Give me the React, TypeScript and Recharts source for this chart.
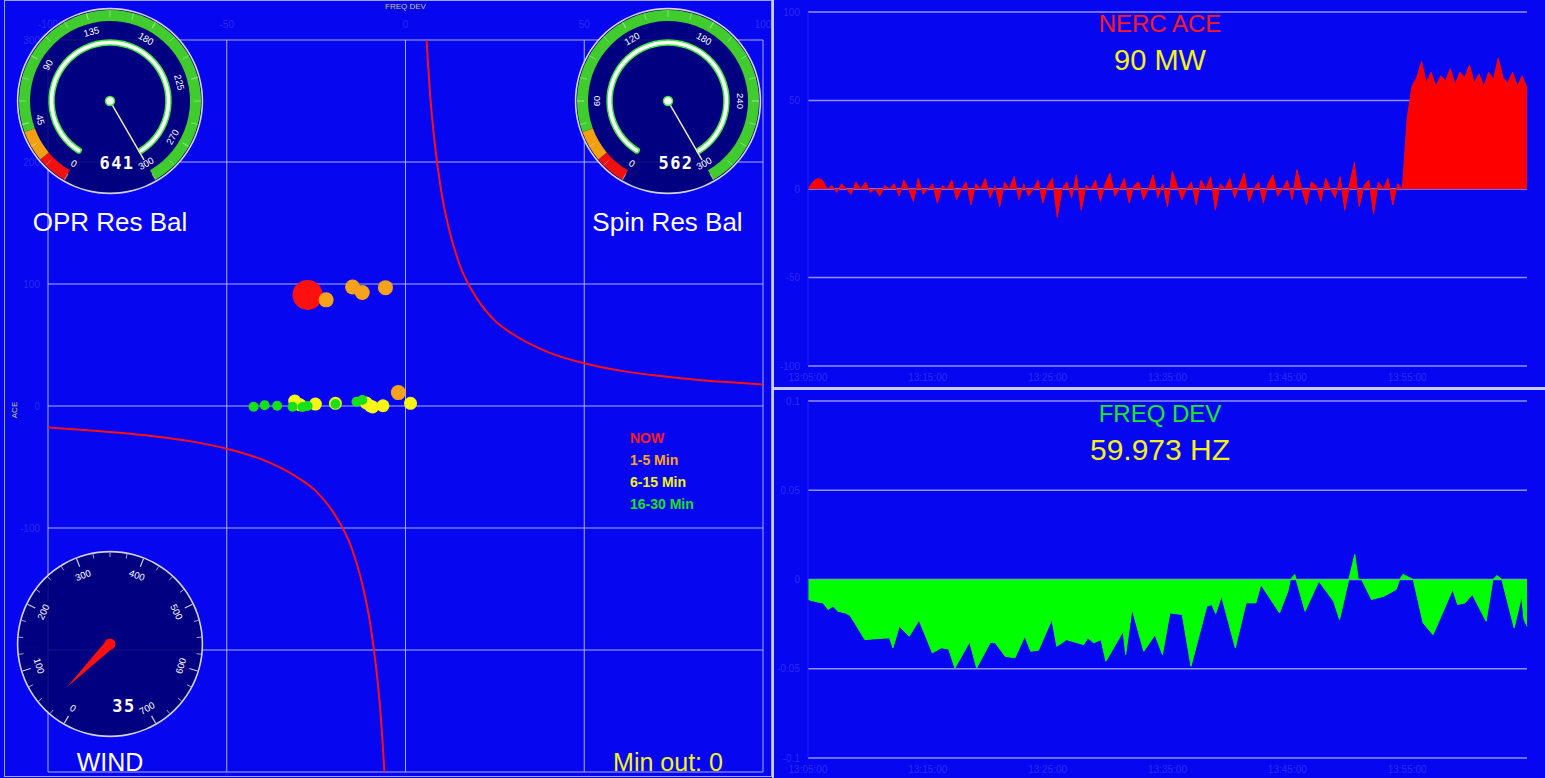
import {
  ScatterChart, Scatter, XAxis, YAxis, CartesianGrid, Legend,
  AreaChart, Area, PieChart, Pie, Cell,
} from 'recharts';

const BG = '#0606f0';
const GRID = '#a9aefc';
const FAINT = '#2b2bf6';
const FONT = '"Liberation Sans", Arial, sans-serif';

// ---- left panel: ACE vs FREQ DEV ----
const FREQ_TICKS = [-100, -50, 0, 50, 100];
const ACE_TICKS = [-300, -200, -100, 0, 100, 200, 300];

const nowPoints = [{ x: -27.4, y: 91 }];
const min1to5Points = [
  { x: -22.2, y: 87 }, { x: -14.8, y: 97.5 }, { x: -12.1, y: 93 }, { x: -5.6, y: 97 }, { x: -2.0, y: 11 },
];
const min6to15Points = [
  { x: -31.0, y: 4 }, { x: -29.5, y: 1 }, { x: -25.2, y: 1.6 }, { x: -19.6, y: 2.2 }, { x: -11.0, y: 2.5 },
  { x: -9.8, y: 0 }, { x: -9.2, y: -0.8 }, { x: -6.3, y: 0.2 }, { x: 1.4, y: 2.2 },
];
const min16to30Points = [
  { x: -42.5, y: -0.6 }, { x: -39.4, y: 0.6 }, { x: -35.9, y: 0.2 }, { x: -31.6, y: -0.6 }, { x: -28.8, y: -0.8 },
  { x: -27.4, y: 0 }, { x: -19.6, y: 1.6 }, { x: -13.7, y: 3.5 }, { x: -12.1, y: 4.9 },
];

// BAAL limit curve
const baalUpper = [
  { x: 5.9, y: 300 }, { x: 7, y: 251 }, { x: 8, y: 220 }, { x: 10, y: 176 }, { x: 12, y: 147 },
  { x: 15, y: 117 }, { x: 20, y: 88 }, { x: 25, y: 70 }, { x: 30, y: 59 }, { x: 40, y: 44 },
  { x: 50, y: 35 }, { x: 60, y: 29 }, { x: 70, y: 25 }, { x: 80, y: 22 }, { x: 90, y: 19.6 }, { x: 100, y: 17.6 },
];
const baalLower = [
  { x: -100, y: -17.6 }, { x: -90, y: -19.6 }, { x: -80, y: -22 }, { x: -70, y: -25 }, { x: -60, y: -29 },
  { x: -50, y: -35 }, { x: -40, y: -44 }, { x: -30, y: -59 }, { x: -25, y: -70 }, { x: -20, y: -88 },
  { x: -15, y: -117 }, { x: -12, y: -147 }, { x: -10, y: -176 }, { x: -8, y: -220 }, { x: -7, y: -251 }, { x: -5.9, y: -300 },
];

const LEGEND_ORDER = ['NOW', '1-5 Min', '6-15 Min', '16-30 Min'];
const LEGEND_COLORS: Record<string, string> = {
  'NOW': '#ff1a1a', '1-5 Min': '#ffa31a', '6-15 Min': '#f2f21a', '16-30 Min': '#1ee01e',
};

// ---- right panels ----
const TIME_LABELS = ['13:05:00', '13:15:00', '13:25:00', '13:35:00', '13:45:00', '13:55:00'];
const TIME_TICKS = [0, 10, 20, 30, 40, 50];
const ACE_MW_TICKS = [-100, -50, 0, 50, 100];
const HZ_TICKS = [-0.1, -0.05, 0, 0.05, 0.1];

// NERC ACE (MW), one sample every 0.4 min
const aceValues = [
  0, 4, 6, 5, 0, 2, -2, 3, 0, -3, 4, 0, 4, -2, 0, -4, 2, 0, 3, -4,
  5, 0, -7, 6, -3, 0, 3, -8, 2, 0, 5, -6, 0, 4, -9, 3, 0, 6, -5, 2,
  -10, 4, 0, 7, -6, 3, -4, 0, 5, -8, 2, 6, -16, 0, 4, -5, 8, -12, 2, 0,
  5, -7, 3, 9, -4, 0, 6, -8, 2, 4, -6, 0, 8, -5, 3, -10, 10, 2, -6, 0,
  4, -9, 5, 0, 7, -12, 3, 0, 6, -5, 2, 9, -7, 0, 4, -8, 3, 8, -4, 0,
  5, -6, 11, 0, -9, 4, 2, -7, 6, 0, -5, 7, -12, 3, 15, -10, 2, 5, -14, 4,
  0, 6, -9, 3, 0, 40, 58, 63, 72, 60, 66, 58, 64, 61, 68, 59, 66, 63, 70, 60,
  65, 58, 66, 62, 74, 63, 60, 66, 58, 64, 57,
];

// FREQ DEV (Hz) samples: minute, deviation
const freqTimes = [
  0, 0.85, 1.26, 1.67, 2.08, 2.5, 3.11, 3.52, 4.75, 5.37, 6.8, 7.09, 7.62, 8.45, 9.27, 10.38, 11.11, 11.73, 12.26, 13.49,
  14.07, 15.22, 15.63, 16.45, 17.27, 18.09, 18.59, 19.24, 20.35, 20.76, 21.58, 23.01, 23.35, 23.84, 24.45, 24.86, 26.3, 26.51, 27.04, 28.02,
  28.96, 29.58, 30.2, 31.23, 31.96, 33.28, 33.69, 34.02, 34.51, 35.66, 36.56, 37.38, 37.79, 39.35, 40.05, 40.25, 40.62, 41.48, 42.63, 43.86,
  44.36, 45.1, 45.63, 45.92, 46.2, 47.03, 48.05, 49.08, 49.37, 49.65, 50.51, 51.33, 52.16, 53.8, 54.21, 54.83, 55.44, 56.59, 57.16, 57.49,
  57.9, 58.93, 59.55, 59.75, 60,
];
const freqDev = [
  -0.0112, -0.0127, -0.0131, -0.0168, -0.015, -0.0178, -0.0187, -0.0202, -0.0337, -0.0333, -0.0327, -0.0383, -0.0262, -0.0318, -0.0228, -0.0411, -0.0383, -0.0389, -0.0496, -0.035,
  -0.0496, -0.0352, -0.0355, -0.043, -0.0439, -0.0318, -0.0402, -0.0396, -0.0224, -0.0374, -0.0337, -0.0365, -0.0327, -0.0355, -0.0337, -0.0458, -0.029, -0.0421, -0.0165, -0.0402,
  -0.0309, -0.0421, -0.0187, -0.0196, -0.0486, -0.015, -0.014, -0.0191, -0.0094, -0.0383, -0.0131, -0.0131, -0.0028, -0.0187, -0.0065, 0, 0.0028, -0.0178, -0.0009, -0.0122,
  -0.0224, -0.0009, 0.014, 0, 0, -0.0112, -0.0094, -0.0056, 0, 0.0028, 0, -0.0243, -0.0309, -0.0056, -0.014, -0.0131, -0.0084, -0.0234, 0, 0.0022,
  0, -0.0271, -0.0094, -0.0224, -0.0262,
];

// ---- gauges ----
const OPR_LABELS = [0, 45, 90, 135, 180, 225, 270, 300];
const SPIN_LABELS = [0, 60, 120, 180, 240, 300];
const WIND_LABELS = [0, 100, 200, 300, 400, 500, 600, 700];
const RES_BANDS = [
  { name: 'low', size: 20, color: '#f01010' },
  { name: 'warn', size: 20, color: '#f2a010' },
  { name: 'ok', size: 260, color: '#3fcc2c' },
];

const GS = 200;
const GC = 100;

function gaugeDeg(v: number, max: number) {
  return -150 + (300 * v) / max;
}
function pt(r: number, deg: number) {
  const a = (deg * Math.PI) / 180;
  return { x: GC + r * Math.sin(a), y: GC - r * Math.cos(a) };
}

function Gauge(props: {
  cx: number; cy: number; max: number; labels: number[]; minorStep: number;
  bands?: typeof RES_BANDS; value: number; valueText: string; valueDx: number; wind?: boolean;
}) {
  const { cx, cy, max, labels, minorStep, bands, value, valueText, valueDx, wind } = props;
  const shown = Math.min(value, max);
  const nDeg = gaugeDeg(shown, max);
  const minors: number[] = [];
  for (let v = 0; v <= max + 0.001; v += minorStep) minors.push(v);

  let needle;
  if (wind) {
    const tip = pt(61, nDeg);
    const b1 = pt(5, nDeg - 90);
    const b2 = pt(5, nDeg + 90);
    needle = (
      <g>
        <polygon points={`${b1.x},${b1.y} ${tip.x},${tip.y} ${b2.x},${b2.y}`} fill="#ff1010" />
        <circle cx={GC} cy={GC} r={5.5} fill="#ff1010" />
      </g>
    );
  } else {
    const tip = pt(68, nDeg);
    needle = (
      <g>
        <line x1={GC} y1={GC} x2={tip.x} y2={tip.y} stroke="#e6e6b8" strokeWidth={1.5} />
        <circle cx={GC} cy={GC} r={4.5} fill="#ffffff" stroke="#3ee83e" strokeWidth={1.5} />
      </g>
    );
  }

  return (
    <div style={{ position: 'absolute', left: cx - GC, top: cy - GC, width: GS, height: GS }}>
      <PieChart width={GS} height={GS} margin={{ top: 0, right: 0, bottom: 0, left: 0 }}>
        <Pie data={[{ v: 1 }]} dataKey="v" cx={GC} cy={GC} innerRadius={0} outerRadius={92}
          startAngle={0} endAngle={360} fill="#000070" fillOpacity={0.88} stroke="none"
          isAnimationActive={false} />
        <Pie data={[{ v: 1 }]} dataKey="v" cx={GC} cy={GC} innerRadius={91.6} outerRadius={93.2}
          startAngle={0} endAngle={360} fill="#d2d2dc" stroke="none" isAnimationActive={false} />
        {bands && (
          <Pie data={bands} dataKey="size" cx={GC} cy={GC} innerRadius={80} outerRadius={91}
            startAngle={240} endAngle={-60} stroke="none" isAnimationActive={false}>
            {bands.map((b) => <Cell key={b.name} fill={b.color} />)}
          </Pie>
        )}
        {!wind && (
          <Pie data={[{ v: shown }, { v: max - shown }]} dataKey="v" cx={GC} cy={GC} innerRadius={56}
            outerRadius={61} startAngle={240} endAngle={-60} isAnimationActive={false} cornerRadius={2}>
            <Cell fill="#ffffff" stroke="#3ee83e" strokeWidth={1.5} />
            <Cell fill="none" stroke="none" />
          </Pie>
        )}
      </PieChart>
      <svg width={GS} height={GS} style={{ position: 'absolute', left: 0, top: 0 }}>
        {minors.map((v) => {
          const d = gaugeDeg(v, max);
          const major = labels.includes(v);
          const a = pt(wind ? (major ? 83 : 87) : 84, d);
          const b = pt(wind ? 91.5 : 91, d);
          return (
            <line key={`m${v}`} x1={a.x} y1={a.y} x2={b.x} y2={b.y}
              stroke="#ffffff" strokeOpacity={wind ? 0.8 : 0.45} strokeWidth={major ? 1.2 : 0.8} />
          );
        })}
        {labels.map((v) => {
          const d = gaugeDeg(v, max);
          const p = pt(wind ? 74 : 72, d);
          let rot = d;
          if (rot > 90) rot -= 180;
          if (rot < -90) rot += 180;
          return (
            <text key={`l${v}`} x={p.x} y={p.y} fill="#ffffff" fontSize={9.5} textAnchor="middle"
              dominantBaseline="central" fontFamily={FONT} transform={`rotate(${rot} ${p.x} ${p.y})`}>
              {v}
            </text>
          );
        })}
        {needle}
        <text x={GC + valueDx} y={GC + 62} fill="#ffffff" fontSize={17} fontWeight="bold" textAnchor="middle"
          dominantBaseline="central" fontFamily='"DejaVu Sans Mono", monospace' letterSpacing={1.5}>
          {valueText}
        </text>
      </svg>
    </div>
  );
}

function Label(props: { x: number; y: number; text: string; color: string; size: number }) {
  return (
    <div style={{
      position: 'absolute', left: props.x, top: props.y, transform: 'translate(-50%, -50%)',
      color: props.color, fontSize: props.size, fontFamily: FONT, whiteSpace: 'nowrap', lineHeight: 1,
    }}>
      {props.text}
    </div>
  );
}

const dot = (r: number, fill: string) => (p: any) => <circle cx={p.cx} cy={p.cy} r={r} fill={fill} />;
const noDot = () => <g />;

export default function App() {
  const aceRows = aceValues.map((v, i) => ({ t: i * 0.4, v }));
  const freqRows = freqTimes.map((t, i) => ({ t, v: freqDev[i] }));
  const faintTick = { fill: FAINT, fontSize: 10, fontFamily: FONT };

  return (
    <div style={{ position: 'absolute', left: 0, top: 0, width: 1545, height: 778, background: BG, overflow: 'hidden', fontFamily: FONT }}>
      {/* left panel */}
      <div style={{ position: 'absolute', left: 4, top: 0, width: 768, height: 777, border: '1px solid #9da3ff', boxSizing: 'border-box' }} />
      <div style={{ position: 'absolute', left: 4, top: 2 }}>
        <ScatterChart width={767} height={774} margin={{ top: 10, right: 8, bottom: 4, left: 0 }}>
          <CartesianGrid stroke={GRID} strokeWidth={1} />
          <XAxis type="number" dataKey="x" orientation="top" domain={[-100, 100]} ticks={FREQ_TICKS} height={28}
            tick={faintTick} axisLine={false} tickLine={false} tickMargin={6}
            label={{ value: 'FREQ DEV', position: 'insideTop', offset: -9, fill: '#c8c86a', fontSize: 8 }} />
          <YAxis type="number" dataKey="y" domain={[-300, 300]} ticks={ACE_TICKS} width={44}
            tick={faintTick} axisLine={false} tickLine={false}
            label={{
              content: ({ viewBox }: any) => {
                const lx = viewBox.x + 10;
                const ly = viewBox.y + viewBox.height / 2 + 4;
                return (
                  <text x={lx} y={ly} fill="#c8c86a" fontSize={8} textAnchor="middle" dominantBaseline="central"
                    transform={`rotate(-90 ${lx} ${ly})`} fontFamily={FONT}>ACE</text>
                );
              },
            }} />
          <Scatter name="baalUpper" data={baalUpper} line={{ stroke: '#ff1010', strokeWidth: 2 }} lineJointType="monotoneX"
            shape={noDot} legendType="none" isAnimationActive={false} />
          <Scatter name="baalLower" data={baalLower} line={{ stroke: '#ff1010', strokeWidth: 2 }} lineJointType="monotoneX"
            shape={noDot} legendType="none" isAnimationActive={false} />
          <Scatter name="NOW" data={nowPoints} fill="#ff1010" shape={dot(15, '#ff1010')} isAnimationActive={false} />
          <Scatter name="1-5 Min" data={min1to5Points} fill="#ffa020" shape={dot(7.5, '#f8a21c')} isAnimationActive={false} />
          <Scatter name="6-15 Min" data={min6to15Points} fill="#f4f414" shape={dot(6.5, '#f6f614')} isAnimationActive={false} />
          <Scatter name="16-30 Min" data={min16to30Points} fill="#1ee01e" shape={dot(5, '#18e018')} isAnimationActive={false} />
          <Legend layout="vertical" align="center" verticalAlign="middle"
            wrapperStyle={{ left: 626, top: 425, width: 120 }}
            content={({ payload }: any) => {
              const names = (payload || []).map((p: any) => p.value);
              return (
                <div>
                  {LEGEND_ORDER.filter((n) => names.includes(n)).map((n) => (
                    <div key={n} style={{ color: LEGEND_COLORS[n], fontWeight: 'bold', fontSize: 14, lineHeight: '22px', fontFamily: FONT }}>
                      {n}
                    </div>
                  ))}
                </div>
              );
            }} />
        </ScatterChart>
      </div>

      <Gauge cx={110} cy={101} max={300} labels={OPR_LABELS} minorStep={15} bands={RES_BANDS}
        value={641} valueText="641" valueDx={7} />
      <Gauge cx={667.5} cy={101} max={300} labels={SPIN_LABELS} minorStep={15} bands={RES_BANDS}
        value={562} valueText="562" valueDx={8} />
      <Gauge cx={110} cy={644} max={700} labels={WIND_LABELS} minorStep={25}
        value={35} valueText="35" valueDx={14} wind />

      <Label x={110} y={222} text="OPR Res Bal" color="#ffffff" size={26} />
      <Label x={667.5} y={222} text="Spin Res Bal" color="#ffffff" size={26} />
      <Label x={110} y={762} text="WIND" color="#ffffff" size={25} />
      <Label x={668} y={762} text="Min out: 0" color="#f2f21a" size={25} />

      {/* right top: NERC ACE */}
      <div style={{ position: 'absolute', left: 772, top: 0, width: 2, height: 778, background: '#c8ccff' }} />
      <div style={{ position: 'absolute', left: 774, top: 387, width: 771, height: 3, background: '#c8ccff' }} />
      <div style={{ position: 'absolute', left: 775, top: 0 }}>
        <AreaChart width={770} height={388} data={aceRows} margin={{ top: 12, right: 18, bottom: 0, left: 0 }}>
          <CartesianGrid vertical={false} stroke="#8e92ff" strokeWidth={1.5} />
          <XAxis dataKey="t" type="number" domain={[0, 60]} ticks={TIME_TICKS} height={22}
            tickFormatter={(v: number) => TIME_LABELS[TIME_TICKS.indexOf(v)]}
            tick={faintTick} axisLine={false} tickLine={false} />
          <YAxis type="number" domain={[-100, 100]} ticks={ACE_MW_TICKS} width={33}
            tick={faintTick} axisLine={{ stroke: '#2222f4' }} tickLine={false} />
          <Area dataKey="v" type="linear" stroke="#ff0000" strokeWidth={1} fill="#ff0000" fillOpacity={1}
            baseValue={0} dot={false} activeDot={false} isAnimationActive={false} />
        </AreaChart>
      </div>
      <Label x={1160} y={24} text="NERC ACE" color="#ff1a1a" size={24} />
      <Label x={1160} y={60} text="90 MW" color="#f2f21a" size={29} />

      {/* right bottom: FREQ DEV */}
      <div style={{ position: 'absolute', left: 775, top: 390 }}>
        <AreaChart width={770} height={388} data={freqRows} margin={{ top: 11, right: 18, bottom: 0, left: 0 }}>
          <CartesianGrid vertical={false} stroke="#8e92ff" strokeWidth={1.5} />
          <XAxis dataKey="t" type="number" domain={[0, 60]} ticks={TIME_TICKS} height={20}
            tickFormatter={(v: number) => TIME_LABELS[TIME_TICKS.indexOf(v)]}
            tick={faintTick} axisLine={false} tickLine={false} />
          <YAxis type="number" domain={[-0.1, 0.1]} ticks={HZ_TICKS} width={33}
            tick={faintTick} axisLine={{ stroke: '#2222f4' }} tickLine={false} />
          <Area dataKey="v" type="linear" stroke="#00ff00" strokeWidth={1} fill="#00ff00" fillOpacity={1}
            baseValue={0} dot={false} activeDot={false} isAnimationActive={false} />
        </AreaChart>
      </div>
      <Label x={1160} y={414} text="FREQ DEV" color="#1ee81e" size={24} />
      <Label x={1160} y={450} text="59.973 HZ" color="#f2f21a" size={30} />
    </div>
  );
}
